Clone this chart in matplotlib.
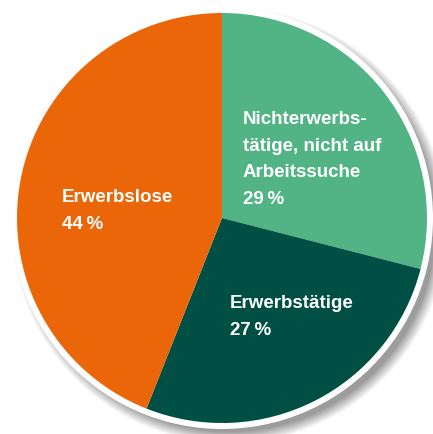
import numpy as np
import matplotlib
matplotlib.use("Agg")
import matplotlib.pyplot as plt
from matplotlib.patches import Circle

labels = ["Nichterwerbs-\ntätige, nicht auf\nArbeitssuche\n29\u2009%", "Erwerbstätige\n27\u2009%", "Erwerbslose\n44\u2009%"]
values = [29, 27, 44]
colors = ["#52B385", "#004F45", "#EB6608"]

W, H = 433, 435
fig = plt.figure(figsize=(W / 100, H / 100), dpi=100)
ax = fig.add_axes([0, 0, 1, 1])
ax.set_xlim(0, W)
ax.set_ylim(0, H)
ax.set_aspect("equal")
ax.axis("off")

cx, cy, r = 222, H - 219, 205

# soft shadow (decorative)
yy, xx = np.mgrid[0:H, 0:W]
d = np.sqrt((xx - (cx + 7)) ** 2 + ((H - yy) - (cy - 7)) ** 2)
shadow = np.clip(1 - (d - (r + 1)) / 12, 0, 1) * 0.55
rgba = np.zeros((H, W, 4))
rgba[..., :3] = 0.3
rgba[..., 3] = shadow
ax.imshow(rgba, extent=(0, W, 0, H), origin="upper", zorder=0)

ax.add_patch(Circle((cx, cy), r + 6, facecolor="white", edgecolor="none", zorder=1))

wedges, _ = ax.pie(values, colors=colors, startangle=90, counterclock=False,
                   center=(cx, cy), radius=r, frame=True,
                   wedgeprops=dict(linewidth=0, zorder=2))
for w in wedges:
    w.set_zorder(2)
ax.set_xlim(0, W)
ax.set_ylim(0, H)
ax.axis("off")

font = dict(family=["Liberation Sans", "DejaVu Sans"], weight="bold", color="white", fontsize=13.5,
            ha="left", va="top", linespacing=1.74, zorder=3)
ax.text(243, H - 111, labels[0], **font)
ax.text(230, H - 295, labels[1], **font)
ax.text(62, H - 189, labels[2], **font)

fig.savefig("out.png", dpi=100)
